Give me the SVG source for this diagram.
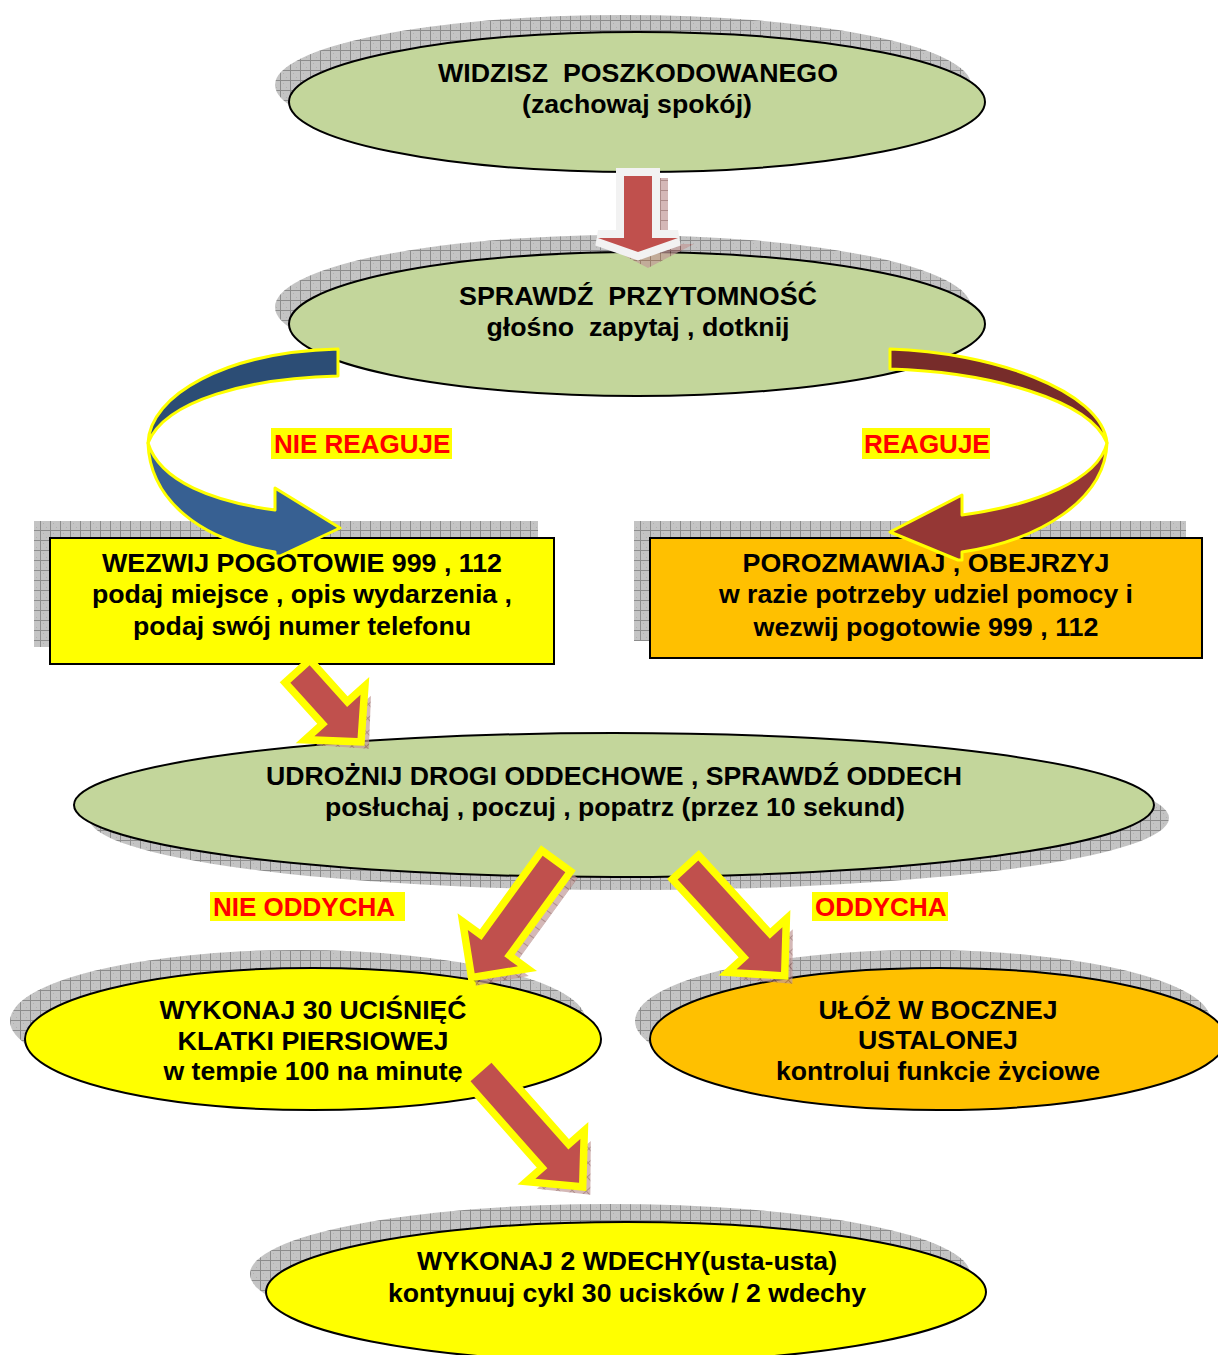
<svg xmlns="http://www.w3.org/2000/svg" width="1218" height="1355" viewBox="0 0 1218 1355">
<defs>
<pattern id="grid" width="10" height="10" patternUnits="userSpaceOnUse">
<rect width="10" height="10" fill="#c4c4c4"/>
<rect width="1" height="1" x="3" y="3" fill="#b0b0b0"/><rect width="1" height="1" x="6" y="7" fill="#b0b0b0"/>
<path d="M0 0.5H10M0.5 0V10" stroke="#8c8c8c" stroke-width="1"/>
</pattern>
<pattern id="gridR" width="10" height="10" patternUnits="userSpaceOnUse">
<rect width="10" height="10" fill="#c29a98"/>
<path d="M0 0.5H10M0.5 0V10" stroke="#8a5a58" stroke-width="1"/>
</pattern>
<clipPath id="clipTxt"><rect x="0" y="0" width="1218" height="1082"/></clipPath>
</defs>
<style>
.sh{fill:url(#grid);}
.nd{stroke:#000;stroke-width:2;}
.t{font-family:"Liberation Sans",Arial,sans-serif;font-weight:bold;font-size:26px;fill:#000;text-anchor:middle;}
.lbl{font-family:"Liberation Sans",Arial,sans-serif;font-weight:bold;font-size:26px;fill:#ff0000;}
.lblbg{fill:#ffff00;}
.ar{fill:#c0504d;stroke:#ffff00;stroke-width:15;stroke-linejoin:miter;paint-order:stroke;}
.arsh{fill:url(#gridR);opacity:0.7;}
.cv{stroke:#ffff00;stroke-width:3;stroke-linejoin:round;}
</style>
<rect width="1218" height="1355" fill="#ffffff"/>

<g id="n1">
<ellipse class="sh" cx="623" cy="85" rx="348" ry="70"/>
<ellipse class="nd" cx="637" cy="102" rx="348" ry="70" fill="#c3d69b"/>
<text class="t" x="638" y="82" xml:space="preserve" textLength="400" lengthAdjust="spacingAndGlyphs">WIDZISZ  POSZKODOWANEGO</text>
<text class="t" x="637" y="113" textLength="230" lengthAdjust="spacingAndGlyphs">(zachowaj spokój)</text>
</g>

<g id="n2">
<ellipse class="sh" cx="623" cy="307" rx="348" ry="72"/>
<ellipse class="nd" cx="637" cy="324" rx="348" ry="72" fill="#c3d69b"/>
<text class="t" x="638" y="305" xml:space="preserve" textLength="358" lengthAdjust="spacingAndGlyphs">SPRAWDŹ  PRZYTOMNOŚĆ</text>
<text class="t" x="638" y="336" xml:space="preserve" textLength="303" lengthAdjust="spacingAndGlyphs">głośno  zapytaj , dotknij</text>
</g>

<g id="n3">
<ellipse class="sh" cx="629" cy="818" rx="540" ry="72"/>
<ellipse class="nd" cx="614" cy="805" rx="540" ry="72" fill="#c3d69b"/>
<text class="t" x="614" y="785" textLength="696" lengthAdjust="spacingAndGlyphs">UDROŻNIJ DROGI ODDECHOWE , SPRAWDŹ ODDECH</text>
<text class="t" x="615" y="816" textLength="580" lengthAdjust="spacingAndGlyphs">posłuchaj , poczuj , popatrz (przez 10 sekund)</text>
</g>

<g id="n4">
<ellipse class="sh" cx="298" cy="1021" rx="288" ry="71"/>
<ellipse class="nd" cx="313" cy="1039" rx="288" ry="71" fill="#ffff00"/>
<g clip-path="url(#clipTxt)">
<text class="t" x="313" y="1019" textLength="307" lengthAdjust="spacingAndGlyphs">WYKONAJ 30 UCIŚNIĘĆ</text>
<text class="t" x="313" y="1050" textLength="271" lengthAdjust="spacingAndGlyphs">KLATKI PIERSIOWEJ</text>
<text class="t" x="313" y="1080" textLength="299" lengthAdjust="spacingAndGlyphs">w tempie 100 na minutę</text>
</g>
</g>

<g id="n5">
<ellipse class="sh" cx="923" cy="1021" rx="288" ry="71"/>
<ellipse class="nd" cx="938" cy="1039" rx="288" ry="71" fill="#ffc000"/>
<g clip-path="url(#clipTxt)">
<text class="t" x="938" y="1019" textLength="239" lengthAdjust="spacingAndGlyphs">UŁÓŻ W BOCZNEJ</text>
<text class="t" x="938" y="1049" textLength="160" lengthAdjust="spacingAndGlyphs">USTALONEJ</text>
<text class="t" x="938" y="1080" textLength="324" lengthAdjust="spacingAndGlyphs">kontroluj funkcje życiowe</text>
</g>
</g>

<g id="n6">
<ellipse class="sh" cx="610" cy="1274" rx="360" ry="70"/>
<ellipse class="nd" cx="626" cy="1292" rx="360" ry="70" fill="#ffff00"/>
<text class="t" x="627" y="1270" textLength="420" lengthAdjust="spacingAndGlyphs">WYKONAJ 2 WDECHY(usta-usta)</text>
<text class="t" x="627" y="1302" textLength="478" lengthAdjust="spacingAndGlyphs">kontynuuj cykl 30 ucisków / 2 wdechy</text>
</g>

<g id="r1">
<rect class="sh" x="34" y="521" width="504" height="126"/>
<rect class="nd" x="50" y="538" width="504" height="126" fill="#ffff00"/>
<text class="t" x="302" y="572" textLength="400" lengthAdjust="spacingAndGlyphs">WEZWIJ POGOTOWIE 999 , 112</text>
<text class="t" x="302" y="603" textLength="420" lengthAdjust="spacingAndGlyphs">podaj miejsce , opis wydarzenia ,</text>
<text class="t" x="302" y="635" textLength="338" lengthAdjust="spacingAndGlyphs">podaj swój numer telefonu</text>
</g>

<g id="r2">
<rect class="sh" x="634" y="521" width="552" height="120"/>
<rect class="nd" x="650" y="538" width="552" height="120" fill="#ffc000"/>
<text class="t" x="926" y="572" textLength="367" lengthAdjust="spacingAndGlyphs">POROZMAWIAJ , OBEJRZYJ</text>
<text class="t" x="926" y="603" textLength="414" lengthAdjust="spacingAndGlyphs">w razie potrzeby udziel pomocy i</text>
<text class="t" x="926" y="636" textLength="345" lengthAdjust="spacingAndGlyphs">wezwij pogotowie 999 , 112</text>
</g>

<g id="connectors">
<!-- top arrow -->
<polygon class="arsh" points="634,178 668,178 668,244 694,244 648,268 602,244 634,244"/>
<polygon points="624,176 652,176 652,238 678,238 638,252 598,238 624,238" fill="#c0504d" stroke="#f2f2f2" stroke-width="16" stroke-linejoin="miter" paint-order="stroke"/>

<!-- left curved arrow (blue) -->
<path class="cv" fill="#2c4d75" d="M338,349 L338,376 C250,378 165,400 148,443 C150,395 225,352 338,349 Z"/>
<path class="cv" fill="#376092" d="M148,443 C160,482 215,502 275,510 L275,488 L340,528 L280,556 L275,556 L275,552 C200,540 150,500 148,443 Z"/>

<!-- right curved arrow (brown) -->
<path class="cv" fill="#772c2a" d="M890,349 L890,369 C990,372 1090,400 1107,443 C1102,390 990,352 890,349 Z"/>
<path class="cv" fill="#953735" d="M1107,443 C1098,480 1035,505 962,515 L962,495 L890,532 L958,560 L962,560 L962,552 C1040,540 1105,500 1107,443 Z"/>

<!-- diagonal arrows -->
<g transform="translate(306,679) rotate(48)"><polygon class="arsh" points="-4,-18 56,-18 56,-37 94,0 56,37 56,18 -4,18"/></g>
<g transform="translate(300,674) rotate(48)"><polygon class="ar" points="0,-13 56,-13 56,-31 86,0 56,31 56,13 0,13"/></g>

<g transform="translate(560,870) rotate(126)"><polygon class="arsh" points="-4,-19 104,-19 104,-37 143,0 104,37 104,19 -4,19"/></g>
<g transform="translate(554,864) rotate(126)"><polygon class="ar" points="0,-14 104,-14 104,-31 135,0 104,31 104,14 0,14"/></g>

<g transform="translate(694,876) rotate(47.6)"><polygon class="arsh" points="-4,-19 106,-19 106,-37 146,0 106,37 106,19 -4,19"/></g>
<g transform="translate(688,870) rotate(47.6)"><polygon class="ar" points="0,-14 106,-14 106,-31 138,0 106,31 106,14 0,14"/></g>

<g transform="translate(487,1078) rotate(48.5)"><polygon class="arsh" points="-4,-19 116,-19 116,-36 156,0 116,36 116,19 -4,19"/></g>
<g transform="translate(481,1072) rotate(48.5)"><polygon class="ar" points="0,-14 116,-14 116,-30 148,0 116,30 116,14 0,14"/></g>
</g>

<g id="labels">
<rect class="lblbg" x="271" y="428" width="181" height="31"/>
<text class="lbl" x="274" y="453">NIE REAGUJE</text>
<rect class="lblbg" x="862" y="428" width="128" height="31"/>
<text class="lbl" x="864" y="453">REAGUJE</text>
<rect class="lblbg" x="210" y="892" width="195" height="29"/>
<text class="lbl" x="213" y="916">NIE ODDYCHA</text>
<rect class="lblbg" x="812" y="892" width="136" height="29"/>
<text class="lbl" x="815" y="916">ODDYCHA</text>
</g>
</svg>
